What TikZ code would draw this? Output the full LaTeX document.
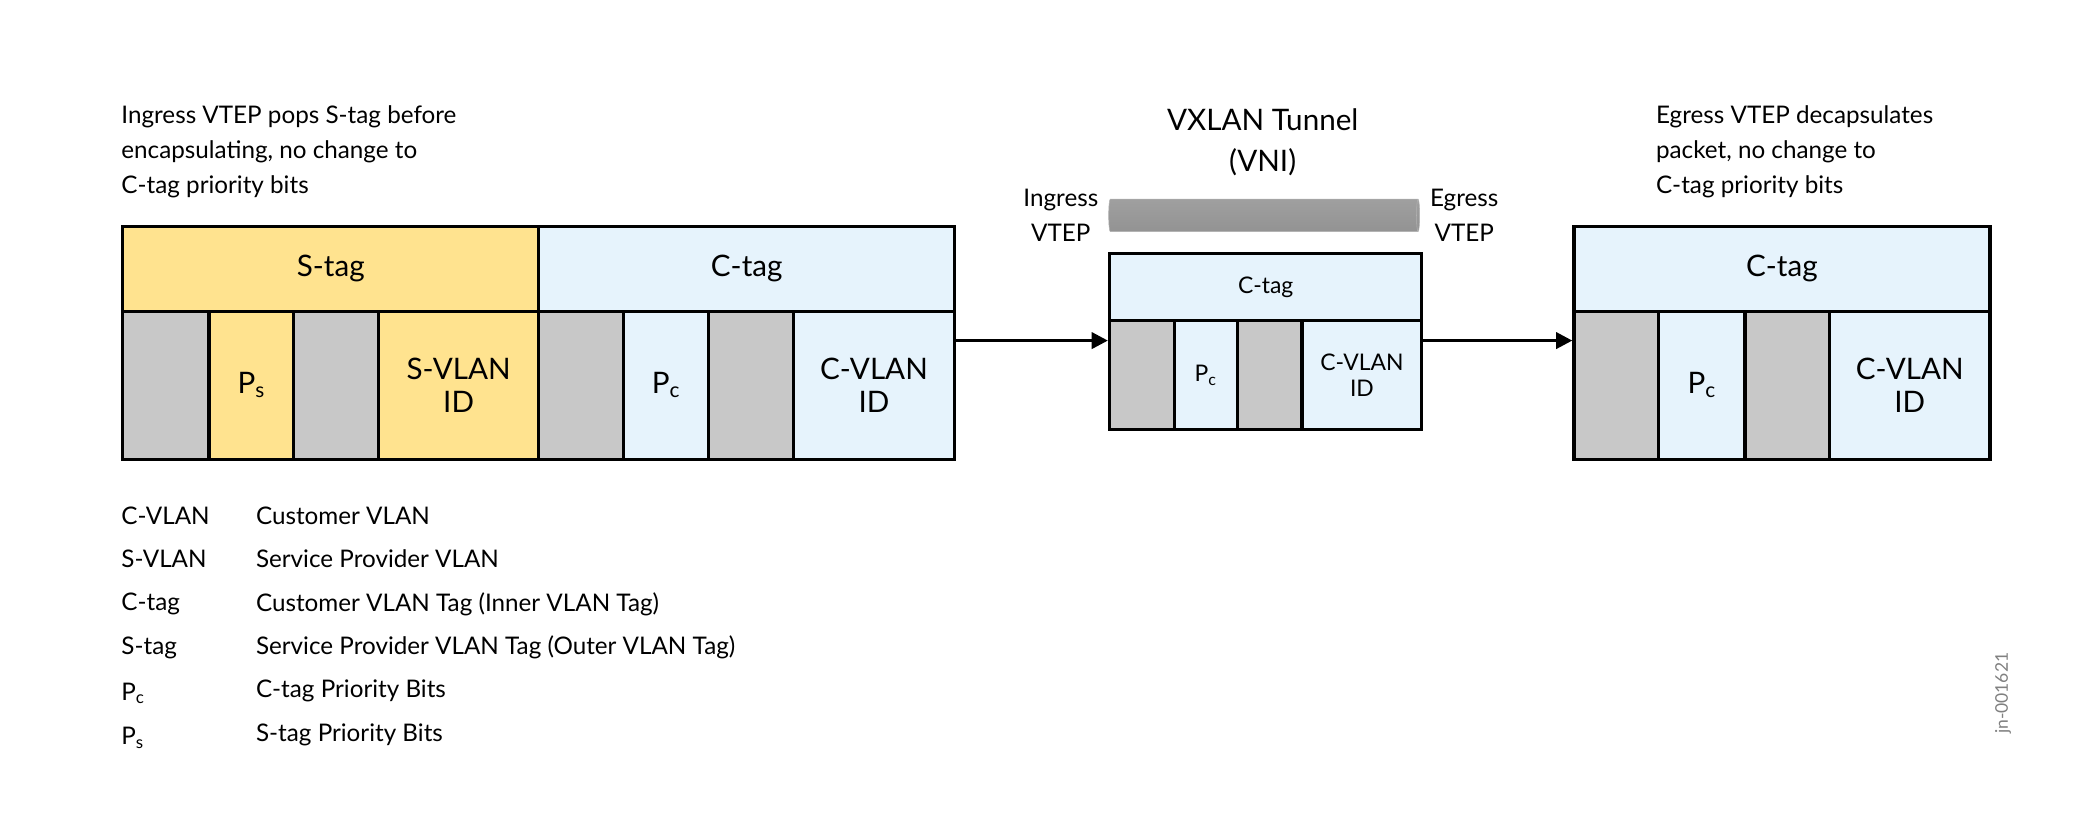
\documentclass[tikz,border=0pt]{standalone}
\usepackage{fontspec}
\setmainfont{Lato}
\usetikzlibrary{shapes.geometric, arrows.meta, positioning}

\definecolor{stagyellow}{HTML}{FFE38F}
\definecolor{ctagblue}{HTML}{E6F3FC}
\definecolor{hdrgray}{HTML}{C8C8C8}

\begin{document}
\begin{tikzpicture}[
    x=1pt, y=-1pt,
    cell/.style={draw, line width=2.4pt, rectangle, inner sep=0pt, anchor=north west, align=center, font=\fontsize{22}{25}\selectfont},
    small/.style={cell, font=\fontsize{17}{19}\selectfont},
    note/.style={anchor=north west, inner sep=0pt, align=left, font=\fontsize{18}{26}\selectfont},
    leg/.style={anchor=west, inner sep=0pt, font=\fontsize{18}{22}\selectfont},
    arrow/.style={-{Triangle[length=12pt, width=12pt]}, line width=2.4pt},
]
\useasboundingbox (0,0) rectangle (1560,620);

% Ingress packet
\node[cell, fill=stagyellow, minimum width=309pt, minimum height=63pt] (lstag) at (90,167) {S-tag};
\node[cell, fill=ctagblue, minimum width=309pt, minimum height=63pt] (lctag) at (399,167) {C-tag};
\node[cell, fill=hdrgray, minimum width=64pt, minimum height=110pt] (lg1) at (90,230) {};
\node[cell, fill=stagyellow, minimum width=63pt, minimum height=110pt] (lps) at (154,230) {P$_\mathrm{s}$};
\node[cell, fill=hdrgray, minimum width=63pt, minimum height=110pt] (lg2) at (217,230) {};
\node[cell, fill=stagyellow, minimum width=119pt, minimum height=110pt] (lsvid) at (280,230) {S-VLAN\\ID};
\node[cell, fill=hdrgray, minimum width=63pt, minimum height=110pt] (lg3) at (399,230) {};
\node[cell, fill=ctagblue, minimum width=63pt, minimum height=110pt] (lpc) at (462,230) {P$_\mathrm{c}$};
\node[cell, fill=hdrgray, minimum width=63pt, minimum height=110pt] (lg4) at (525,230) {};
\node[cell, fill=ctagblue, minimum width=120pt, minimum height=110pt] (lcvid) at (588,230) {C-VLAN\\ID};

% VXLAN packet
\node[small, fill=ctagblue, minimum width=232pt, minimum height=50pt] (mctag) at (823,187) {C-tag};
\node[small, fill=hdrgray, minimum width=48pt, minimum height=81pt] (mg1) at (823,237) {};
\node[small, fill=ctagblue, minimum width=47pt, minimum height=81pt] (mpc) at (871,237) {P$_\mathrm{c}$};
\node[small, fill=hdrgray, minimum width=48pt, minimum height=81pt] (mg2) at (918,237) {};
\node[small, fill=ctagblue, minimum width=89pt, minimum height=81pt] (mcvid) at (966,237) {C-VLAN\\ID};

% Egress packet
\node[cell, fill=ctagblue, minimum width=309pt, minimum height=63pt] (rctag) at (1168,167) {C-tag};
\node[cell, fill=hdrgray, minimum width=63pt, minimum height=110pt] (rg1) at (1168,230) {};
\node[cell, fill=ctagblue, minimum width=64pt, minimum height=110pt] (rpc) at (1231,230) {P$_\mathrm{c}$};
\node[cell, fill=hdrgray, minimum width=63pt, minimum height=110pt] (rg2) at (1295,230) {};
\node[cell, fill=ctagblue, minimum width=119pt, minimum height=110pt] (rcvid) at (1358,230) {C-VLAN\\ID};

% Tunnel
\node[cylinder, draw=gray!60, minimum height=231pt, minimum width=24pt, aspect=0.35,
      top color=gray!75, middle color=white, bottom color=gray!85] (tunnel) at (938,160) {};
\node[font=\fontsize{22}{30}\selectfont, align=center, above=14pt of tunnel] (tunlbl) {VXLAN Tunnel\\(VNI)};
\node[font=\fontsize{18}{26}\selectfont, align=center, left=4pt of tunnel] (ingvtep) {Ingress\\VTEP};
\node[font=\fontsize{18}{26}\selectfont, align=center, right=4pt of tunnel] (egvtep) {Egress\\VTEP};

% Notes
\node[note] (lnote) at (90,78) {Ingress VTEP pops S-tag before\\encapsulating, no change to\\C-tag priority bits};
\node[note] (rnote) at (1230,78) {Egress VTEP decapsulates\\packet, no change to\\C-tag priority bits};

% Arrows
\draw[arrow] ([yshift=-23pt]lcvid.north east) -- ([yshift=-16pt]mg1.north west);
\draw[arrow] ([yshift=-16pt]mcvid.north east) -- ([yshift=-23pt]rg1.north west);

% Legend
\node[leg] (k1) at (90,383) {C-VLAN};   \node[leg] (d1) at (190,383) {Customer VLAN};
\node[leg] (k2) at (90,415) {S-VLAN};   \node[leg] (d2) at (190,415) {Service Provider VLAN};
\node[leg] (k3) at (90,449) {C-tag};    \node[leg] (d3) at (190,449) {Customer VLAN Tag (Inner VLAN Tag)};
\node[leg] (k4) at (90,481) {S-tag};    \node[leg] (d4) at (190,481) {Service Provider VLAN Tag (Outer VLAN Tag)};
\node[leg] (k5) at (90,515) {P$_\mathrm{c}$}; \node[leg] (d5) at (190,513) {C-tag Priority Bits};
\node[leg] (k6) at (90,548) {P$_\mathrm{s}$}; \node[leg] (d6) at (190,546) {S-tag Priority Bits};

\node[rotate=90, text=gray, font=\fontsize{13}{15}\selectfont] (figid) at (1488,515) {jn-001621};
\end{tikzpicture}
\end{document}
